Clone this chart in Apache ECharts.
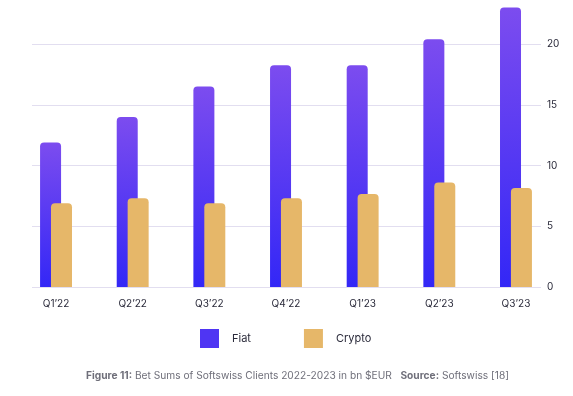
<!DOCTYPE html>
<html><head><meta charset="utf-8">
<script src="https://cdn.jsdelivr.net/npm/echarts@6/dist/echarts.min.js"></script>
<style>html,body{margin:0;padding:0;background:#fff}#c{width:573px;height:396px}</style>
</head><body><div id="c"></div>
<script>
const categories = ["Q1’22","Q2’22","Q3’22","Q4’22","Q1’23","Q2’23","Q3’23"];
const fiat = [11.9, 14.0, 16.5, 18.25, 18.25, 20.4, 23.0];
const crypto = [6.9, 7.3, 6.9, 7.3, 7.65, 8.6, 8.15];
const seriesNames = ["Fiat","Crypto"];
const yTicks = [0,5,10,15,20];
const caption = [["Figure 11:", true],[" Bet Sums of Softswiss Clients 2022-2023 in bn $EUR   ", false],["Source:", true],[" Softswiss [18]", false]];

const FONT = "Inter, 'Noto Sans', sans-serif";
const chart = echarts.init(document.getElementById('c'), null, {renderer:'canvas'});
const fiatGrad = new echarts.graphic.LinearGradient(0,0,0,1,[{offset:0,color:'#7c4cef'},{offset:1,color:'#3327f6'}]);
chart.setOption({
  animation:false,
  textStyle:{fontFamily:FONT},
  grid:[
    {left:17.7, right:18.7, top:44, bottom:109, containLabel:false},
    {left:32, right:32, top:44, bottom:109, containLabel:false}
  ],
  legend:{
    data:[{name:seriesNames[0], itemStyle:{color:'#4f35f3'}},{name:seriesNames[1]}],
    top:329, left:200, padding:0, itemWidth:19, itemHeight:19, itemGap:53,
    icon:'rect',
    textStyle:{fontSize:11, color:'#2a2a3a', fontFamily:FONT, padding:[0,0,0,8]}
  },
  xAxis:[
    {type:'category', data:categories, gridIndex:0,
     axisLine:{show:false}, axisTick:{show:false},
     axisLabel:{color:'#2a2a3a', fontSize:10, margin:12, fontFamily:FONT}},
    {type:'category', data:categories, gridIndex:1, show:false}
  ],
  yAxis:[
    {type:'value', gridIndex:0, min:0, max:20, interval:5, show:false},
    {type:'value', gridIndex:1, min:0, max:20, interval:5, position:'right',
     axisLine:{show:false}, axisTick:{show:false},
     splitLine:{show:true, lineStyle:{color:'#e2def0', width:1}},
     axisLabel:{color:'#2a2a3a', fontSize:10, margin:6, fontFamily:FONT,
       formatter:v=>yTicks.includes(v)?String(v):''}}
  ],
  series:[
    {name:seriesNames[0], type:'bar', data:fiat, xAxisIndex:0, yAxisIndex:0, clip:false,
     barWidth:21, barGap:'-48%', z:2,
     itemStyle:{color:fiatGrad, borderRadius:[4,4,0,0]}},
    {name:seriesNames[1], type:'bar', data:crypto, xAxisIndex:0, yAxisIndex:0, clip:false,
     barWidth:21, z:3,
     itemStyle:{color:'#e6b769', borderRadius:[4,4,0,0]}}
  ],
  graphic:[{
    type:'text', left:86, top:371,
    style:{
      rich:{b:{fontWeight:'bold', fill:'#6f6f7a', fontSize:10.2, fontFamily:FONT},
            n:{fill:'#6f6f7a', fontSize:10.2, fontFamily:FONT}},
      text: caption.map(([t,b])=>'{'+(b?'b':'n')+'|'+t+'}').join('')
    }
  }]
});
</script></body></html>
